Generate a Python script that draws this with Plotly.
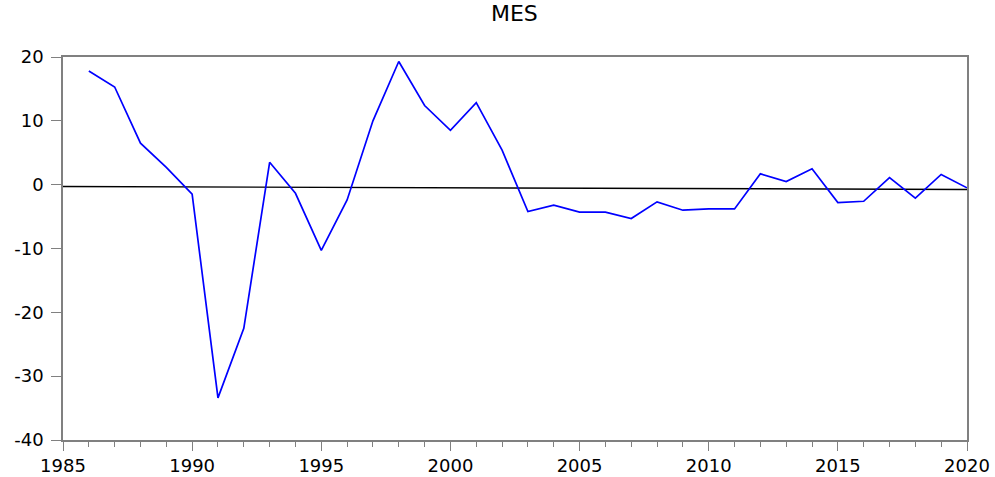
import plotly.graph_objects as go

# MES series, annual
years = list(range(1986, 2021))
mes = [17.8, 15.3, 6.5, 2.7, -1.5, -33.4, -22.5, 3.5, -1.35, -10.3,
       -2.4, 10.0, 19.3, 12.4, 8.5, 12.85, 5.4, -4.2, -3.2, -4.3,
       -4.3, -5.3, -2.7, -4.0, -3.8, -3.8, 1.7, 0.5, 2.5, -2.8,
       -2.6, 1.1, -2.1, 1.6, -0.5]

# near-zero reference (trend) line
ref_x = [1984.8, 2020.2]
ref_y = [-0.28, -0.75]

y_ticks = [-40, -30, -20, -10, 0, 10, 20]
y_labels = ["-40", "-30", "-20", "-10", "0", "10", "20"]

fig = go.Figure()
fig.add_trace(go.Scatter(x=ref_x, y=ref_y, mode="lines",
                         line=dict(color="black", width=1.4), hoverinfo="skip"))
fig.add_trace(go.Scatter(x=years, y=mes, mode="lines",
                         line=dict(color="#0000ff", width=1.7)))

axis_font = dict(family="DejaVu Sans, sans-serif", size=18, color="black")

fig.update_layout(
    width=995, height=477,
    margin=dict(l=63, r=28, t=57, b=37, autoexpand=False),
    paper_bgcolor="white", plot_bgcolor="white",
    showlegend=False,
    title=dict(text="MES", x=0.517, xanchor="center", y=0.973, yanchor="middle",
               yref="container",
               font=dict(family="DejaVu Sans, sans-serif", size=22, color="black")),
)
fig.update_xaxes(range=[1985, 2020], dtick=5, tick0=1985, ticks="outside", ticklen=9,
                 tickcolor="#808080", tickwidth=1.3, automargin=False,
                 minor=dict(dtick=1, ticks="outside", ticklen=5, tickcolor="#808080", tickwidth=1.3),
                 showline=True, linecolor="#808080", linewidth=1.5, mirror=True,
                 showgrid=False, zeroline=False, tickfont=axis_font)
fig.update_yaxes(range=[-40, 20], tickvals=y_ticks, ticktext=y_labels,
                 ticks="outside", ticklen=10, automargin=False,
                 tickcolor="#808080", tickwidth=1.3,
                 showline=True, linecolor="#808080", linewidth=1.5, mirror=True,
                 showgrid=False, zeroline=False, tickfont=axis_font, ticklabelstandoff=4)

# drop the browser's default page margin so the figure sits at the window corner
fig.write_html("out.html", config={"displayModeBar": False},
               post_script="document.body.style.margin='0';")
